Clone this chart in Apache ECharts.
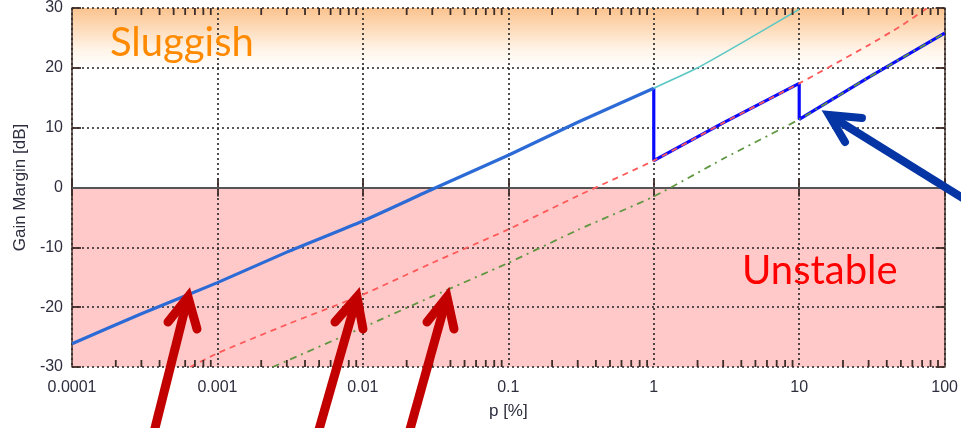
<!DOCTYPE html>
<html><head><meta charset="utf-8">
<script src="https://cdn.jsdelivr.net/npm/echarts@6/dist/echarts.min.js"></script>
<style>html,body{margin:0;padding:0;background:#fff}#c{width:961px;height:428px}</style>
</head><body><div id="c"></div>
<script>
// ---- data ----
const xTickLabels = ['0.0001','0.001','0.01','0.1','1','10','100'];
const yMin = -30, yMax = 30, yStep = 10;

// thick blue curve (0.0001 .. 1)
const blueP = [0.0001, 0.0003, 0.001, 0.003, 0.01, 0.03, 0.1, 0.3, 1];
const blueV = [-26.1, -21.1, -15.9, -10.8, -5.6, -0.3, 5.4, 10.9, 16.6];
// thin cyan continuation (1 .. 10)
const cyanP = [1, 2, 5, 10];
const cyanV = [16.6, 20.0, 25.5, 29.8];
// red dashed curve
const redP = [0.00065, 0.001, 0.003, 0.01, 0.03, 0.1, 0.3, 1, 3, 10, 30, 50, 76];
const redV = [-30, -27.7, -22.9, -17.9, -12.6, -7.0, -1.4, 4.5, 10.8, 17.4, 23.8, 27.0, 30];
// green dash-dot curve
const greenP = [0.0024, 0.01, 0.03, 0.1, 0.3, 1, 3, 10, 30, 100];
const greenV = [-30, -23.4, -18.2, -12.6, -7.1, -1.5, 4.8, 11.4, 18.4, 25.8];
// switching points of the composite (pure blue) line
const switchP = [1, 10];

// ---- build ----
const zip = (p, v) => p.map((x, i) => [x, v[i]]);
const blueData = zip(blueP, blueV);
const cyanData = zip(cyanP, cyanV);
const redData = zip(redP, redV);
const greenData = zip(greenP, greenV);
const compData = [[switchP[0], blueV[blueV.length - 1]]]
  .concat(redData.filter(d => d[0] >= switchP[0] && d[0] <= switchP[1]))
  .concat(greenData.filter(d => d[0] >= switchP[1]));

const minorTicks = [];
for (let e = -4; e < 2; e++) for (let k = 2; k <= 9; k++) minorTicks.push(k * Math.pow(10, e));
const bottomTicks = minorTicks.map(v => [v, yMin]);
const topTicks = minorTicks.map(v => [v, yMax]);

const frame = '#3d2c28';
const labelFont = {fontFamily: 'Liberation Sans', fontSize: 16, color: '#2e2e3e'};
const gridLine = {show: true, lineStyle: {color: '#222', width: 1.6, type: [2, 3]}};

const chart = echarts.init(document.getElementById('c'));
const option = {
  animation: false,
  grid: {left: 72, right: 16, top: 8, bottom: 61},
  xAxis: [{
    type: 'log', min: 0.0001, max: 100, position: 'bottom', z: 2,
    axisLine: {lineStyle: {color: frame, width: 1.5}},
    axisTick: {inside: true, length: 9, lineStyle: {color: frame, width: 1.8}},
    axisLabel: Object.assign({margin: 13, formatter: v => xTickLabels[Math.round(Math.log10(v)) + 4]}, labelFont),
    splitLine: gridLine,
    name: 'p [%]', nameLocation: 'middle', nameGap: 36,
    nameTextStyle: {fontFamily: 'Liberation Sans', fontSize: 17, color: '#2e2e3e'}
  }, {
    type: 'log', min: 0.0001, max: 100, position: 'top', z: 2,
    axisLine: {lineStyle: {color: frame, width: 1.5}},
    axisTick: {inside: true, length: 9, lineStyle: {color: frame, width: 1.8}},
    axisLabel: {show: false}, splitLine: {show: false}
  }],
  yAxis: [{
    type: 'value', min: yMin, max: yMax, interval: yStep, position: 'left', z: 2,
    axisLine: {show: true, lineStyle: {color: frame, width: 1.5}},
    axisTick: {show: true, inside: true, length: 9, lineStyle: {color: frame, width: 1.8}},
    axisLabel: Object.assign({margin: 9}, labelFont),
    splitLine: gridLine,
    name: 'Gain Margin [dB]', nameLocation: 'middle', nameGap: 42,
    nameTextStyle: {fontFamily: 'Liberation Sans', fontSize: 17, color: '#2e2e3e'}
  }, {
    type: 'value', min: yMin, max: yMax, interval: yStep, position: 'right', z: 2,
    axisLine: {show: true, lineStyle: {color: frame, width: 1.5}},
    axisTick: {show: true, inside: true, length: 9, lineStyle: {color: frame, width: 1.8}},
    axisLabel: {show: false}, splitLine: {show: false}
  }],
  series: [
    {
      type: 'line', data: [], z: 1, silent: true,
      markArea: {silent: true, z: 1, data: [
        [{yAxis: -30, itemStyle: {color: '#ffc9c9', opacity: 1}}, {yAxis: 0}],
        [{yAxis: 20, itemStyle: {opacity: 1, color: new echarts.graphic.LinearGradient(0, 0, 0, 1, [
          {offset: 0, color: '#fbc38e'}, {offset: 0.7, color: '#fff4e8'}, {offset: 1, color: '#ffffff'}])}}, {yAxis: 30}]
      ]}
    },
    {
      type: 'line', data: [], z: 2.5, silent: true,
      markLine: {silent: true, z: 2.5, symbol: 'none', label: {show: false},
        lineStyle: {color: '#555', width: 2, type: 'solid'}, data: [{yAxis: 0}]}
    },
    {type: 'line', name: 'composite', data: compData, showSymbol: false, z: 3,
      lineStyle: {color: '#0a0aff', width: 3.2}},
    {type: 'line', name: 'base', data: blueData, showSymbol: false, z: 4, smooth: 0.2,
      lineStyle: {color: '#2c6bd6', width: 3.2}},
    {type: 'line', name: 'cyan', data: cyanData, showSymbol: false, z: 4, smooth: 0.2,
      lineStyle: {color: '#5cc8c4', width: 1.6}},
    {type: 'line', name: 'red', data: redData, showSymbol: false, z: 5, smooth: 0.2,
      lineStyle: {color: '#ff5a5a', width: 1.8, type: [6, 5]}},
    {type: 'line', name: 'green', data: greenData, showSymbol: false, z: 5, smooth: 0.2,
      lineStyle: {color: '#5f9640', width: 1.8, type: [7, 5, 2, 5]}},
    {type: 'scatter', name: 'minorBottom', data: bottomTicks, z: 6, silent: true, clip: false,
      symbol: 'rect', symbolSize: [1.8, 7], symbolOffset: [0, -3.5], itemStyle: {color: frame, opacity: 1}},
    {type: 'scatter', name: 'minorTop', data: topTicks, z: 6, silent: true, clip: false,
      symbol: 'rect', symbolSize: [1.8, 7], symbolOffset: [0, 3.5], itemStyle: {color: frame, opacity: 1}}
  ]
};
chart.setOption(option);

// ---- annotations ----
function arrow(tail, tip, b1, b2, color, w) {
  return [
    {type: 'polyline', z: 100, shape: {points: [tail, tip]}, style: {stroke: color, lineWidth: w, fill: null}},
    {type: 'polyline', z: 100, shape: {points: [b1, tip, b2]}, style: {stroke: color, lineWidth: w, fill: null, lineJoin: 'miter', lineCap: 'round'}}
  ];
}
const red = '#c20000', navy = '#0535a5';
const g = [
  {type: 'text', z: 100, style: {x: 110, y: 43, text: 'Sluggish', fill: '#ff8a00', font: '40px Lato', verticalAlign: 'middle'}},
  {type: 'text', z: 100, style: {x: 742, y: 271, text: 'Unstable', fill: '#ff0000', font: '40px Lato', verticalAlign: 'middle'}}
]
  .concat(arrow([152, 440], [188, 297], [168, 322], [197, 329], red, 9))
  .concat(arrow([316, 440], [357, 297], [335, 322], [363, 329], red, 9))
  .concat(arrow([407, 440], [447, 297], [427, 322], [454, 329], red, 9))
  .concat(arrow([985, 212], [829, 115], [862, 118], [845, 142], navy, 8));
chart.setOption({graphic: g});
</script>
</body></html>
